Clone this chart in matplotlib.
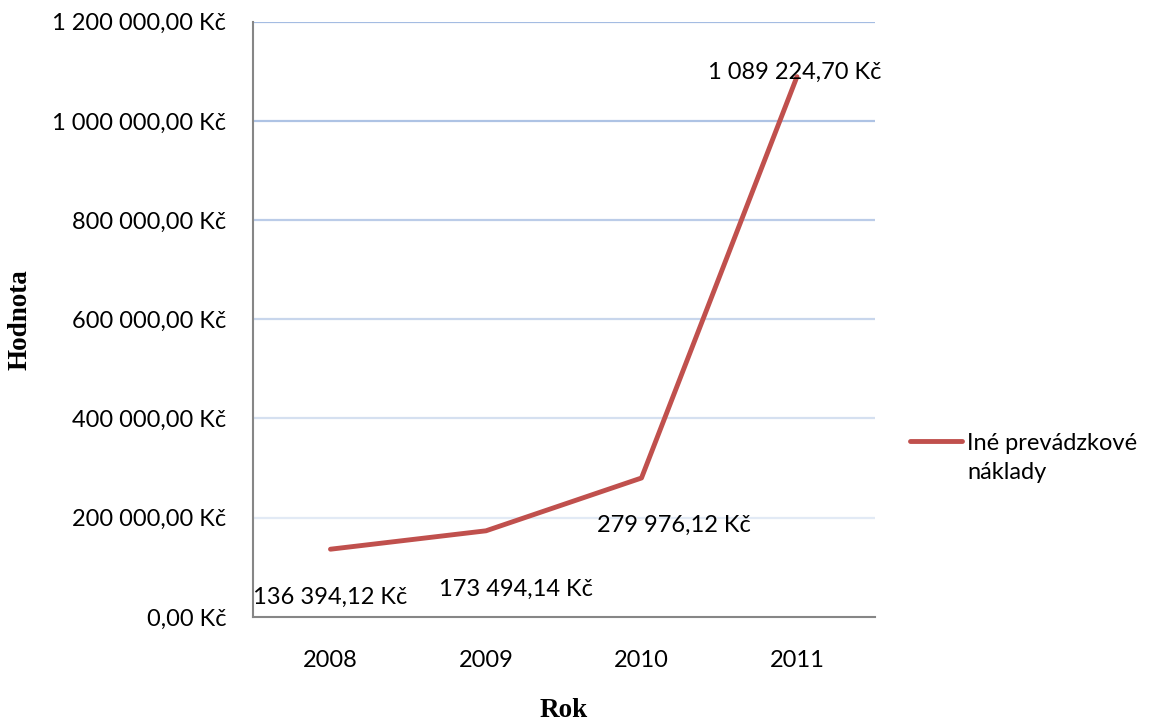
import matplotlib.pyplot as plt
from matplotlib.ticker import FuncFormatter

years = ["2008", "2009", "2010", "2011"]
values = [136394.12, 173494.14, 279976.12, 1089224.70]
series_name = "Iné prevádzkové\nnáklady"
y_ticks = [0, 200000, 400000, 600000, 800000, 1000000, 1200000]


def czk(v, pos=None):
    s = f"{v:,.2f}".replace(",", " ").replace(".", ",")
    return s + " Kč"


plt.rcParams["font.family"] = ["Lato", "DejaVu Sans"]

fig = plt.figure(figsize=(11.54, 7.24), dpi=100)
ax = fig.add_axes([0.219, 0.148, 0.539, 0.822])

x = list(range(len(years)))
ax.plot(x, values, color="#C0504D", lw=3.5, solid_capstyle="round",
        solid_joinstyle="round", zorder=3)

ax.set_xlim(-0.5, 3.5)
ax.set_ylim(0, 1200000)
ax.set_xticks(x)
ax.set_xticklabels(years)
ax.set_yticks(y_ticks)
ax.yaxis.set_major_formatter(FuncFormatter(czk))
ax.tick_params(length=0, labelsize=17, colors="black")
ax.tick_params(axis="x", pad=24)
ax.tick_params(axis="y", pad=19)

# gridlines fading from blue at top to pale at bottom
grid_cols = ["#FFFFFF", "#E2EAF5", "#D5E0F0", "#C8D6EC", "#BBCCE8", "#AEC3E4", "#A4BCE2"]
for yv, c in zip(y_ticks[1:], grid_cols[1:]):
    ax.axhline(yv, color=c, lw=1.6, zorder=1)

for side in ["top", "right"]:
    ax.spines[side].set_visible(False)
for side in ["left", "bottom"]:
    ax.spines[side].set_color("#868686")
    ax.spines[side].set_linewidth(1.5)

# data labels
offsets = [(0, -48), (30, -59), (32, -47), (-2, 4)]
for xi, v, off in zip(x, values, offsets):
    ax.annotate(czk(v), (xi, v), xytext=off, textcoords="offset pixels",
                ha="center", va="center", fontsize=17, zorder=4)

fig.text(0.0173, 0.558, "Hodnota", rotation=90, ha="center", va="center",
         fontsize=19.5, fontweight="bold", family="Liberation Serif")
fig.text(0.4887, 0.019, "Rok", ha="center", va="center",
         fontsize=19.5, fontweight="bold", family="Liberation Serif")

# legend
fig.add_artist(plt.Line2D([910 / 1154, 962 / 1154], [1 - 441 / 724, 1 - 441 / 724],
                          color="#C0504D", lw=3.5, solid_capstyle="round"))
fig.text(967 / 1154, 1 - 458 / 724, series_name, ha="left", va="center",
         fontsize=17, linespacing=1.45)

fig.savefig("out.png", dpi=100)
